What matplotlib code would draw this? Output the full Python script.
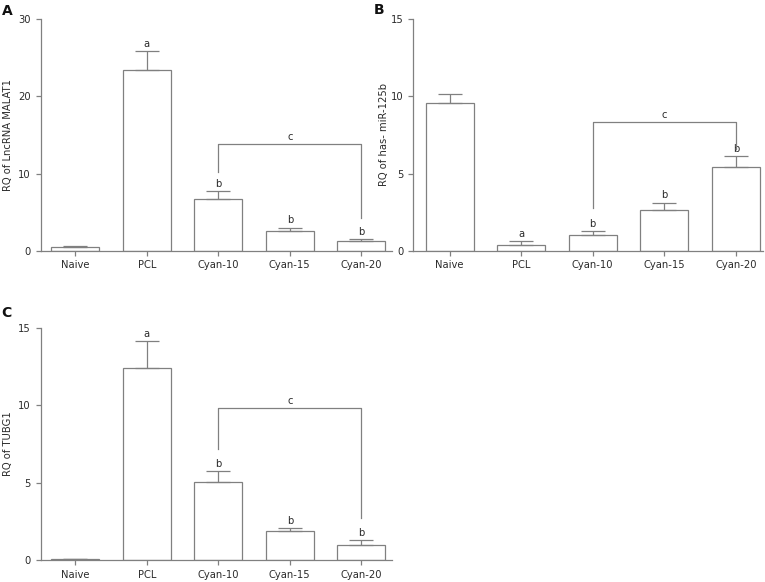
import matplotlib
matplotlib.use('Agg')
import matplotlib.pyplot as plt
import numpy as np

groups = ['Naive', 'PCL', 'Cyan-10', 'Cyan-15', 'Cyan-20']

malat1_mean = [0.45, 23.35, 6.65, 2.5, 1.25]
malat1_err = [0.2, 2.55, 1.05, 0.5, 0.25]
mir125b_mean = [9.57, 0.39, 1.01, 2.63, 5.45]
mir125b_err = [0.55, 0.22, 0.24, 0.49, 0.71]
tubg1_mean = [0.08, 12.37, 5.02, 1.85, 0.97]
tubg1_err = [0.0, 1.75, 0.7, 0.2, 0.3]

sig_letters = ['', 'a', 'b', 'b', 'b']

# bracket: (height, left leg bottom, right leg bottom)
malat1_bracket = (13.8, 10.2, 4.3)
mir125b_bracket = (8.32, 2.76, 6.6)
tubg1_bracket = (9.83, 7.17, 2.73)

line_col = '#808080'
text_col = '#2b2b2b'
fs = 7.2

plt.rcParams['font.family'] = 'DejaVu Sans'
fig = plt.figure(figsize=(7.65, 5.82), dpi=100)


def panel(rect, means, errs, bracket, ymax, yticks, ylabel, xlim, label_x, letter, letter_pos):
    ax = fig.add_axes(rect)
    x = np.arange(len(groups))
    ax.bar(x, means, width=0.67, color='white', edgecolor=line_col, linewidth=0.9, zorder=2)
    ax.errorbar(x, means, yerr=[np.zeros(len(errs)), errs], fmt='none', ecolor=line_col,
                elinewidth=0.9, capsize=8.3, capthick=0.9, zorder=3)
    for i in range(len(groups)):
        if sig_letters[i]:
            ax.annotate(sig_letters[i], (x[i], means[i] + errs[i]), xytext=(0, 1.5),
                        textcoords='offset points', ha='center', va='bottom',
                        fontsize=fs, color=text_col)
    h, l_low, r_low = bracket
    ax.plot([2, 2, 4, 4], [l_low, h, h, r_low], color=line_col, linewidth=0.9, zorder=3)
    ax.annotate('c', (3, h), xytext=(0, 1.5), textcoords='offset points',
                ha='center', va='bottom', fontsize=fs, color=text_col)

    ax.set_xlim(*xlim)
    ax.set_ylim(0, ymax)
    ax.set_xticks(x)
    ax.set_xticklabels(groups)
    ax.set_yticks(yticks)
    for s in ['top', 'right']:
        ax.spines[s].set_visible(False)
    for s in ['left', 'bottom']:
        ax.spines[s].set_color(line_col)
        ax.spines[s].set_linewidth(0.9)
    ax.tick_params(colors=line_col, labelcolor=text_col, labelsize=fs, length=3.5, width=0.9)
    ax.set_ylabel(ylabel, fontsize=fs, color=text_col)
    ax.yaxis.set_label_coords(label_x, 0.5)
    fig.text(letter_pos[0], letter_pos[1], letter, fontsize=10, fontweight='bold',
             color='#111111', ha='left', va='center')
    return ax


panel([0.0532, 0.5692, 0.4592, 0.398], malat1_mean, malat1_err, malat1_bracket,
      30, [0, 10, 20, 30], 'RQ of LncRNA MALAT1', (-0.486, 4.43), -0.079, 'A', (0.002, 0.981))
panel([0.5403, 0.5692, 0.4571, 0.398], mir125b_mean, mir125b_err, mir125b_bracket,
      15, [0, 5, 10, 15], 'RQ of has- miR-125b', (-0.506, 4.38), -0.071, 'B', (0.489, 0.983))
panel([0.0532, 0.0378, 0.4592, 0.399], tubg1_mean, tubg1_err, tubg1_bracket,
      15, [0, 5, 10, 15], 'RQ of TUBG1', (-0.486, 4.43), -0.079, 'C', (0.002, 0.462))

fig.savefig('out.png', dpi=100)
